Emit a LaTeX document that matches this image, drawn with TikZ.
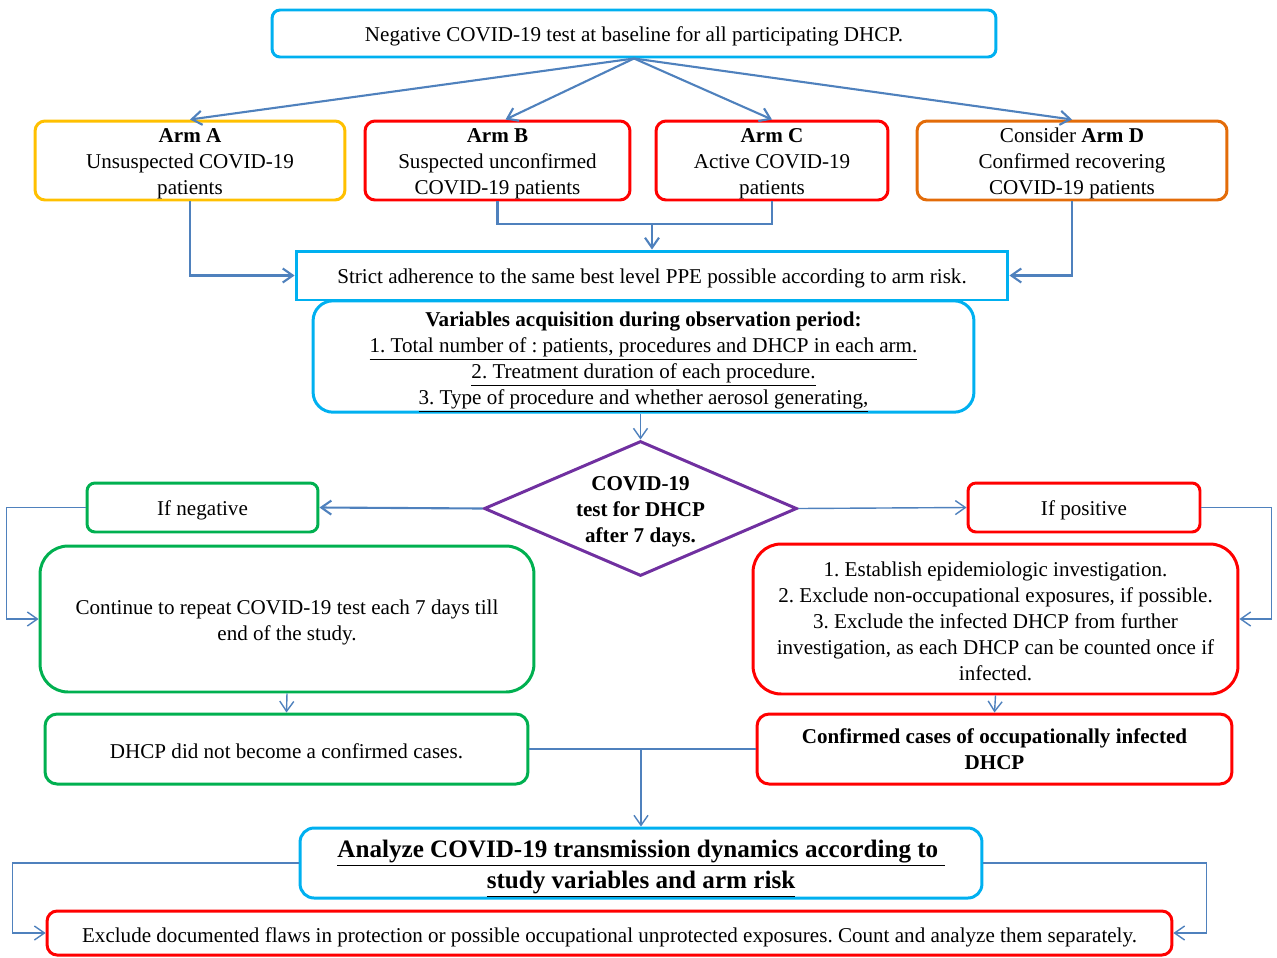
\documentclass[tikz,border=0pt]{standalone}
\usepackage{fontspec}
\setmainfont{Liberation Serif}
\usetikzlibrary{arrows.meta,shapes.geometric,calc}
\definecolor{ccyan}{HTML}{00B0F0}
\definecolor{cyellow}{HTML}{FFC000}
\definecolor{cred}{HTML}{FF0000}
\definecolor{corange}{HTML}{E36C09}
\definecolor{cgreen}{HTML}{00B050}
\definecolor{cpurple}{HTML}{7030A0}
\definecolor{cline}{HTML}{4F81BD}
\frenchspacing
\newcommand{\lift}[1]{\rule{0pt}{#1}}
\tikzset{
  box/.style={draw, line width=1.7pt, align=center, inner xsep=2pt, inner ysep=0pt, font=\fontsize{12}{14.8}\selectfont},
  sbox/.style={box, execute at begin node={\rule{0pt}{11.8pt}}},
  conn/.style={draw=cline, line width=1.2pt, -{Straight Barb[length=2mm,width=2.8mm]}},
  connthin/.style={draw=cline, line width=0.8pt, -{Straight Barb[length=2mm,width=2.8mm]}},
  plain/.style={draw=cline, line width=1.2pt},
  plainthin/.style={draw=cline, line width=0.8pt},
}
\begin{document}
\begin{tikzpicture}[x=0.02cm,y=-0.02cm]
\useasboundingbox (0,0) rectangle (1277,957);
% nodes
\node[sbox, draw=ccyan, rounded corners=0.16cm, minimum width=14.48cm, minimum height=0.94cm] (top) at (634,33.5) {Negative COVID-19 test at baseline for all participating DHCP.};
\node[box, draw=cyellow, rounded corners=0.2cm, minimum width=6.2cm, minimum height=1.58cm] (armA) at (190,160.5) {\lift{11.4pt}\textbf{Arm A}\\Unsuspected COVID-19\\patients};
\node[box, draw=cred, rounded corners=0.2cm, minimum width=5.3cm, minimum height=1.58cm] (armB) at (497.5,160.5) {\lift{11.4pt}\textbf{Arm B}\\Suspected unconfirmed\\COVID-19 patients};
\node[box, draw=cred, rounded corners=0.2cm, minimum width=4.64cm, minimum height=1.58cm] (armC) at (772,160.5) {\lift{11.4pt}\textbf{Arm C}\\Active COVID-19\\patients};
\node[box, draw=corange, rounded corners=0.2cm, minimum width=6.2cm, minimum height=1.58cm] (armD) at (1072,160.5) {\lift{11.4pt}Consider \textbf{Arm D}\\Confirmed recovering\\COVID-19 patients};
\node[sbox, draw=ccyan, minimum width=14.24cm, minimum height=0.98cm] (strict) at (652,275.5) {Strict adherence to the same best level PPE possible according to arm risk.};
\node[box, draw=ccyan, rounded corners=0.4cm, minimum width=13.22cm, minimum height=2.18cm] (var) at (643.5,356.5) {\lift{14.4pt}\textbf{Variables acquisition during observation period:}\\\underline{1. Total number of : patients, procedures and DHCP in each arm.}\\\underline{2. Treatment duration of each procedure.}\\\underline{3. Type of procedure and whether aerosol generating,}};
\node[diamond, draw=cpurple, line width=1.7pt, minimum width=6.26cm, minimum height=2.7cm, inner sep=0pt] (dia) at (640.5,508.5) {};
\node[align=center, font=\fontsize{12}{14.8}\selectfont\bfseries] (diatext) at (dia.center) {\lift{11.4pt}COVID-19\\test for DHCP\\after 7 days.};
\node[sbox, draw=cgreen, rounded corners=0.16cm, minimum width=4.62cm, minimum height=0.98cm] (neg) at (202.5,507.5) {If negative};
\node[box, draw=cgreen, rounded corners=0.56cm, minimum width=9.88cm, minimum height=2.92cm] (cont) at (287,619) {\lift{12.7pt}Continue to repeat COVID-19 test each 7 days till\\end of the study.};
\node[sbox, draw=cred, rounded corners=0.16cm, minimum width=4.64cm, minimum height=0.98cm] (pos) at (1084,507.5) {If positive};
\node[box, draw=cred, rounded corners=0.56cm, minimum width=9.7cm, minimum height=3.0cm] (rb) at (995.5,619) {\lift{10.6pt}1. Establish epidemiologic investigation.\\2. Exclude non-occupational exposures, if possible.\\3. Exclude the infected DHCP from further\\investigation, as each DHCP can be counted once if\\infected.};
\node[box, draw=cgreen, rounded corners=0.24cm, minimum width=9.66cm, minimum height=1.4cm, execute at begin node={\rule{0pt}{10.5pt}}] (dhcp) at (286.5,749) {DHCP did not become a confirmed cases.};
\node[box, draw=cred, rounded corners=0.24cm, minimum width=9.5cm, minimum height=1.4cm] (conf) at (994.5,749) {\lift{9pt}\textbf{Confirmed cases of occupationally infected}\\\textbf{DHCP}};
\node[box, draw=ccyan, rounded corners=0.28cm, minimum width=13.64cm, minimum height=1.4cm, font=\fontsize{14.3}{17.6}\selectfont\bfseries] (ana) at (641,863) {\lift{16.5pt}\underline{Analyze COVID-19 transmission dynamics according to\ }\\\underline{study variables and arm risk}};
\node[box, draw=cred, rounded corners=0.2cm, minimum width=22.5cm, minimum height=0.88cm, execute at begin node={\rule{0pt}{13pt}}] (excl) at (609.5,933) {Exclude documented flaws in protection or possible occupational unprotected exposures. Count and analyze them separately.};
% connectors
\draw[conn] (top.south) -- (armA.north);
\draw[conn] (top.south) -- ($(armB.north)+(8,0)$);
\draw[conn] (top.south) -- (armC.north);
\draw[conn] (top.south) -- (armD.north);
\draw[conn] (armA.south) |- (strict.west);
\draw[conn] (armD.south) |- (strict.east);
\coordinate (bc) at (652,224);
\draw[plain] (armB.south) |- (bc) -| (armC.south);
\draw[conn] (bc) -- (strict.north);
\draw[connthin] (dia.north |- var.south) -- (dia.north);
\draw[conn] (dia.west) -- (neg.east);
\draw[connthin] (dia.east) -- (pos.west);
\draw[connthin] (neg.west) -- ++(-79,0) |- (cont.west);
\draw[connthin] (pos.east) -- ++(70,0) |- (rb.east);
\draw[connthin] (cont.south) -- (dhcp.north);
\draw[connthin] (rb.south) -- (conf.north);
\draw[plainthin] (dhcp.east) -- (conf.west);
\draw[connthin] (ana.north |- dhcp.east) -- (ana.north);
\draw[connthin] (ana.west) -- ++(-286,0) |- (excl.west);
\draw[connthin] (ana.east) -- ++(223,0) |- (excl.east);
\end{tikzpicture}
\end{document}
